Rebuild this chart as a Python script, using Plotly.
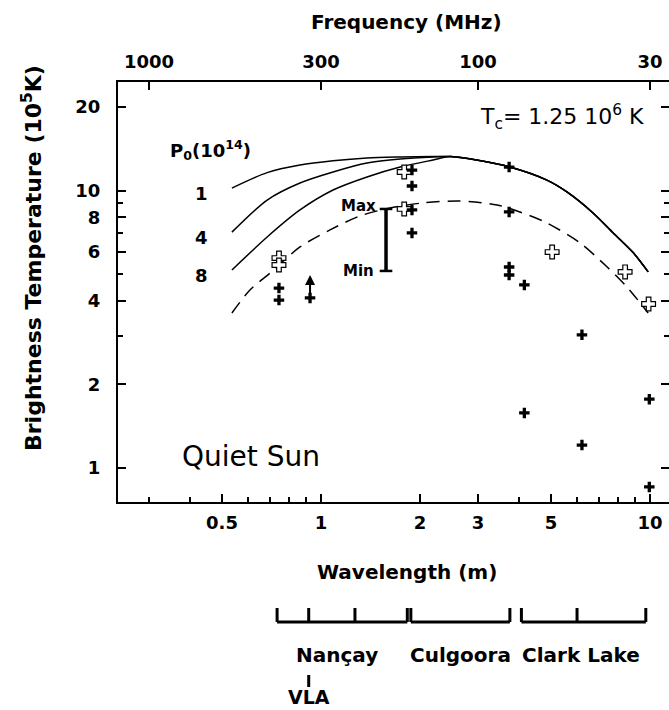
import numpy as np
import plotly.graph_objects as go

# ---------------- data ----------------
# model curves: wavelength (m) vs brightness temperature (1e5 K)
curve_labels = ["1", "4", "8"]
curve1_lam = [0.536, 0.686, 0.863, 1.088, 1.38, 1.74, 2.19]
curve1_tb = [10.2, 11.6, 12.35, 12.8, 13.1, 13.2, 13.25]
curve4_lam = [0.536, 0.686, 0.863, 1.088, 1.38, 1.74, 2.19]
curve4_tb = [7.08, 9.24, 10.64, 11.66, 12.56, 12.99, 13.2]
curve8_lam = [0.536, 0.686, 0.863, 1.088, 1.38, 1.74, 2.19]
curve8_tb = [5.17, 6.80, 8.51, 10.04, 11.19, 12.15, 12.88]
# common high-wavelength branch of the three solid curves
tail_lam = [2.47, 3.0, 3.75, 4.86, 5.59, 6.71, 7.73, 8.90, 9.87]
tail_tb = [13.25, 12.85, 12.15, 10.9, 9.88, 8.30, 7.03, 5.96, 5.09]
dashed_lam = [0.536, 0.608, 0.700, 0.863, 1.065, 1.31, 1.62, 2.04, 2.64,
              3.43, 4.02, 4.86, 6.13, 7.41, 8.51, 9.87]
dashed_tb = [3.62, 4.38, 5.04, 6.26, 7.21, 8.09, 8.65, 9.02, 9.17,
             8.87, 8.37, 7.64, 6.47, 5.30, 4.49, 3.62]

# observations (filled crosses)
obs_lam = [0.745, 0.745, 1.89, 1.89, 1.89, 1.89, 3.73, 3.73, 3.73, 3.73,
           4.15, 4.15, 6.21, 6.21, 9.95, 9.95]
obs_tb = [4.45, 4.03, 11.85, 10.38, 8.51, 7.03, 12.15, 8.37, 5.30, 4.96,
          4.57, 1.58, 3.02, 1.21, 1.77, 0.855]
# observations (open crosses)
open_lam = [0.745, 0.745, 1.79, 1.79, 5.04, 8.4, 9.9]
open_tb = [5.71, 5.39, 11.66, 8.58, 6.0, 5.09, 3.90]
# lower limit (VLA)
limit_lam = [0.926]
limit_tb = [4.10]
# max/min range bar
range_lam = [1.576]
range_max = [8.58]
range_min = [5.13]

# axes ticks
freq_ticks = [1000, 300, 100, 30]
x_major = [0.5, 1, 2, 3, 5, 10]
x_minor = [0.3, 0.4, 0.6, 0.7, 0.8, 0.9, 4, 6, 7, 8, 9]
y_major = [1, 2, 4, 6, 8, 10, 20]
y_minor = [3, 5, 7, 9]

# instruments (MHz)
instrument_names = ["Nançay", "Culgoora", "Clark Lake"]
nancay_mhz = [408, 327, 236.6, 164]
culgoora_mhz = [160, 80]
clarklake_mhz = [73.8, 50.0, 30.9]
vla_mhz = [327]

# ---------------- layout geometry ----------------
W, H = 669, 710
L, R, T, B = 118, 0, 82, 208
PW, PH = W - L - R, H - T - B
FONT = "DejaVu Sans, Liberation Sans, Arial, sans-serif"


def px_x(px):
    return (px - L) / PW


def px_y(py):
    return (H - B - py) / PH


xr = [np.log10(0.2415), np.log10(11.42)]
yr = [-0.1225, 1.391]

fig = go.Figure()

line_style = dict(color="black", width=1.5, shape="spline", smoothing=0.8)
for lam, tb in [(curve1_lam, curve1_tb), (curve4_lam, curve4_tb), (curve8_lam, curve8_tb)]:
    fig.add_trace(go.Scatter(x=lam + tail_lam, y=tb + tail_tb, mode="lines",
                             line=line_style, showlegend=False, hoverinfo="skip"))
fig.add_trace(go.Scatter(x=dashed_lam, y=dashed_tb, mode="lines",
                         line=dict(color="black", width=1.5, dash="13px,8px",
                                   shape="spline", smoothing=0.8),
                         showlegend=False, hoverinfo="skip"))

# range bar
fig.add_trace(go.Scatter(x=range_lam * 2, y=[range_min[0], range_max[0]],
                         mode="lines+markers",
                         line=dict(color="black", width=3.5),
                         marker=dict(symbol="line-ew", size=9,
                                     line=dict(width=2.5, color="black")),
                         showlegend=False, hoverinfo="skip"))

# open crosses
fig.add_trace(go.Scatter(x=open_lam, y=open_tb, mode="markers",
                         marker=dict(symbol="cross", size=11.5, color="white",
                                     line=dict(width=1.2, color="black")),
                         showlegend=False, hoverinfo="skip"))
# filled crosses
fig.add_trace(go.Scatter(x=obs_lam + limit_lam, y=obs_tb + limit_tb, mode="markers",
                         marker=dict(symbol="cross-thin", size=7.5,
                                     line=dict(width=3.3, color="black")),
                         showlegend=False, hoverinfo="skip"))

# invisible trace for top axis
fig.add_trace(go.Scatter(x=[300.0 / f for f in freq_ticks], y=[2] * len(freq_ticks),
                         xaxis="x2", mode="markers", marker=dict(opacity=0),
                         showlegend=False, hoverinfo="skip"))

annotations = []
# lower-limit arrow (head 23 px above the point)
for lam, tb in zip(limit_lam, limit_tb):
    annotations.append(dict(x=np.log10(lam), y=np.log10(tb) + 23 / 277.5,
                            xref="x", yref="y", ax=0, ay=23,
                            text="", showarrow=True, arrowhead=2, arrowsize=1,
                            arrowwidth=2, arrowcolor="black", standoff=0,
                            startstandoff=0))


def label(x, y, text, size, xref="paper", yref="paper", xanchor="center", **kw):
    d = dict(x=x, y=y, xref=xref, yref=yref, text=text, showarrow=False,
             xanchor=xanchor, yanchor="middle",
             font=dict(family=FONT, size=size, color="black"))
    d.update(kw)
    annotations.append(d)


# curve labels
for lab, lam, tb in zip(curve_labels, [curve1_lam, curve4_lam, curve8_lam],
                        [curve1_tb, curve4_tb, curve8_tb]):
    label(np.log10(lam[0]), np.log10(tb[0]), f"<b>{lab}</b>", 18, xref="x", yref="y",
          xshift=-30, yshift=-5)
label(px_x(210), px_y(150), "<b>P<sub>0</sub>(10<sup>14</sup>)</b>", 18)
# Max / Min
label(np.log10(range_lam[0]), np.log10(range_max[0]), "<b>Max</b>", 15, xref="x", yref="y",
      xanchor="right", xshift=-8, yshift=3)
label(np.log10(range_lam[0]), np.log10(range_min[0]), "<b>Min</b>", 15, xref="x", yref="y",
      xanchor="right", xshift=-10)
# Tc text
label(px_x(646), px_y(117), "T<sub>c</sub>= 1.25 10<sup>6</sup> K", 22, xanchor="right")
# Quiet Sun
label(px_x(180), px_y(456), "Quiet Sun", 28, xanchor="left")
# axis titles
label(px_x(406), px_y(22), "<b>Frequency (MHz)</b>", 20)
label(px_x(407), px_y(572), "<b>Wavelength (m)</b>", 20)
label(px_x(32), px_y(258), "<b>Brightness Temperature (10<sup>5</sup>K)</b>", 22,
      textangle=-90)

# instrument brackets
shapes = []
bar_y, tick_y = px_y(622), px_y(608)
label_y = px_y(655)
for name, mhz in zip(instrument_names, [nancay_mhz, culgoora_mhz, clarklake_mhz]):
    lams = [300.0 / f for f in mhz]
    shapes.append(dict(type="line", xref="x", yref="paper", x0=min(lams), x1=max(lams),
                       y0=bar_y, y1=bar_y, line=dict(color="black", width=3)))
    for lam in lams:
        shapes.append(dict(type="line", xref="x", yref="paper", x0=lam, x1=lam,
                           y0=bar_y, y1=tick_y, line=dict(color="black", width=3)))
    center = np.mean(np.log10(lams))
    label(center, label_y, f"<b>{name}</b>", 20, xref="x")
for f in vla_mhz:
    lam = 300.0 / f
    shapes.append(dict(type="line", xref="x", yref="paper", x0=lam, x1=lam,
                       y0=px_y(675), y1=px_y(687), line=dict(color="black", width=3)))
    label(np.log10(lam), px_y(697), "<b>VLA</b>", 19, xref="x")

tickfont = dict(family=FONT, size=18, color="black", weight="bold")

fig.update_layout(
    template="none",
    width=W, height=H,
    margin=dict(l=L, r=R, t=T, b=B, pad=0, autoexpand=False),
    paper_bgcolor="white", plot_bgcolor="white",
    showlegend=False,
    xaxis=dict(type="log", range=xr, showgrid=False, zeroline=False, automargin=False,
               showline=True, linecolor="black", linewidth=2, mirror=False,
               ticks="inside", ticklen=8, tickwidth=1.5, tickcolor="black",
               tickvals=x_major, ticktext=[("%g" % v) for v in x_major],
               tickfont=tickfont, ticklabelstandoff=3,
               minor=dict(tickvals=x_minor, ticks="inside", ticklen=5,
                          tickwidth=1.5, tickcolor="black", showgrid=False)),
    xaxis2=dict(type="log", range=xr, overlaying="x", side="top", anchor="y",
                automargin=False,
                showgrid=False, zeroline=False, showline=True, linecolor="black",
                linewidth=2, ticks="inside", ticklen=8, tickwidth=1.5, tickcolor="black",
                tickvals=[300.0 / f for f in freq_ticks],
                ticktext=[str(f) for f in freq_ticks],
                tickfont=tickfont, ticklabelstandoff=5),
    yaxis=dict(type="log", range=yr, showgrid=False, zeroline=False, automargin=False,
               showline=True, linecolor="black", linewidth=2, mirror="ticks",
               ticks="inside", ticklen=8, tickwidth=1.5, tickcolor="black",
               tickvals=y_major, ticktext=[str(v) for v in y_major],
               tickfont=tickfont, ticklabelstandoff=12,
               minor=dict(tickvals=y_minor, ticks="inside", ticklen=5,
                          tickwidth=1.5, tickcolor="black", showgrid=False)),
    annotations=annotations,
    shapes=shapes,
)

fig.write_html("out.html", config={"displayModeBar": False},
               post_script="document.body.style.margin='0';document.body.style.overflow='hidden';")
